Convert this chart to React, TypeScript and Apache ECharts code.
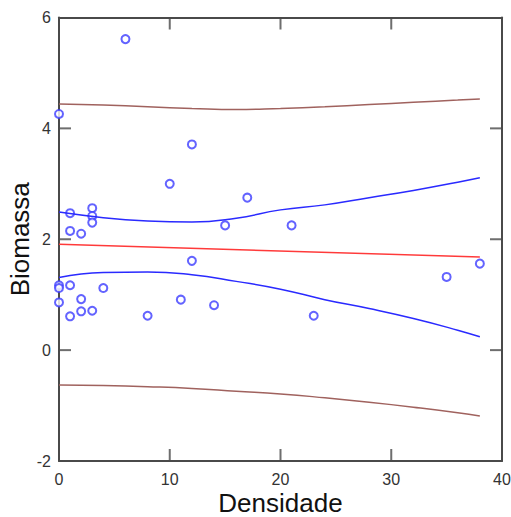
import React, { useEffect, useRef } from "react";
import * as echarts from "echarts";

const densidade = [0, 6, 12, 10, 17, 1, 3, 3, 3, 1, 2, 15, 21, 12, 0, 0, 1, 4, 0, 2, 11, 14, 1, 2, 3, 8, 23, 35, 38];
const biomassa = [4.26, 5.61, 3.71, 3.0, 2.75, 2.47, 2.56, 2.42, 2.3, 2.15, 2.1, 2.25, 2.25, 1.61, 1.17, 1.12, 1.17, 1.12, 0.86, 0.92, 0.91, 0.81, 0.61, 0.7, 0.71, 0.62, 0.62, 1.32, 1.56];

const fitX = [0, 38];
const fitY = [1.91, 1.68];

const bandX = [0, 4, 8, 12, 16, 20, 24, 28, 32, 36, 38];
const confUpper = [2.49, 2.39, 2.33, 2.31, 2.38, 2.53, 2.62, 2.75, 2.88, 3.03, 3.11];
const confLower = [1.31, 1.4, 1.41, 1.36, 1.24, 1.1, 0.91, 0.75, 0.57, 0.36, 0.24];
const predUpper = [4.44, 4.42, 4.39, 4.36, 4.34, 4.36, 4.39, 4.43, 4.47, 4.51, 4.53];
const predLower = [-0.63, -0.64, -0.66, -0.69, -0.74, -0.79, -0.86, -0.94, -1.03, -1.13, -1.19];

const xTicks = { min: 0, max: 40, interval: 10 };
const yTicks = { min: -2, max: 6, interval: 2 };
const xTickValues = [10, 20, 30];
const yTickValues = [0, 2, 4];

const pair = (xs: number[], ys: number[]) => xs.map((x, i) => [x, ys[i]]);

export default function App() {
  const ref = useRef<HTMLDivElement>(null);
  useEffect(() => {
    if (!ref.current) return;
    const chart = echarts.init(ref.current, null, { renderer: "svg" });
    const axisColor = "#4a4a4a";
    const frame = () => ({ show: true, onZero: false, lineStyle: { color: axisColor, width: 2 } });
    const font = "'Liberation Sans', Arial, sans-serif";
    const L = 12;
    const lineSeries = (data: number[][], color: string) => ({
      type: "line",
      data,
      smooth: true,
      showSymbol: false,
      symbol: "none",
      lineStyle: { color, width: 1.5 },
      silent: true,
    });
    const tickSeries = (data: number[][], size: number[], offset: number[]) => ({
      type: "scatter",
      data,
      symbol: "rect",
      symbolSize: size,
      symbolOffset: offset,
      itemStyle: { color: axisColor },
      clip: false,
      silent: true,
      z: 5,
    });
    chart.setOption({
      animation: false,
      backgroundColor: "#fff",
      grid: { left: 59, right: 9, top: 17.5, bottom: 56, outerBoundsMode: "none", containLabel: false },
      xAxis: [
        {
          type: "value",
          ...xTicks,
          name: "Densidade",
          nameLocation: "middle",
          nameGap: 31,
          nameMoveOverlap: false,
          nameTextStyle: { fontSize: 26, lineHeight: 22, color: "#111", fontFamily: font },
          axisLine: frame(),
          axisTick: { show: false },
          axisLabel: { fontSize: 16, color: "#333", fontFamily: font, margin: 10 },
          splitLine: { show: false },
        },
        {
          type: "value",
          position: "top",
          ...xTicks,
          axisLine: frame(),
          axisTick: { show: false },
          axisLabel: { show: false },
          splitLine: { show: false },
        },
      ],
      yAxis: [
        {
          type: "value",
          ...yTicks,
          name: "Biomassa",
          nameLocation: "middle",
          nameGap: 27,
          nameMoveOverlap: false,
          nameTextStyle: { fontSize: 26, lineHeight: 24, color: "#111", fontFamily: font },
          axisLine: frame(),
          axisTick: { show: false },
          axisLabel: { fontSize: 16, color: "#333", fontFamily: font, margin: 8 },
          splitLine: { show: false },
        },
        {
          type: "value",
          position: "right",
          ...yTicks,
          axisLine: frame(),
          axisTick: { show: false },
          axisLabel: { show: false },
          splitLine: { show: false },
        },
      ],
      series: [
        lineSeries(pair(bandX, predUpper), "#a0625e"),
        lineSeries(pair(bandX, predLower), "#a0625e"),
        lineSeries(pair(bandX, confUpper), "#2a2aff"),
        lineSeries(pair(bandX, confLower), "#2a2aff"),
        lineSeries(pair(fitX, fitY), "#ff3a3a"),
        {
          type: "scatter",
          data: pair(densidade, biomassa),
          symbol: "emptyCircle",
          symbolSize: 8,
          itemStyle: { color: "#3c3cff", borderWidth: 1.5 },
          silent: true,
        },
        // inward tick marks on the four sides of the frame
        tickSeries(xTickValues.map((v) => [v, yTicks.min]), [2, L], [0, -L / 2]),
        tickSeries(xTickValues.map((v) => [v, yTicks.max]), [2, L], [0, L / 2]),
        tickSeries(yTickValues.map((v) => [xTicks.min, v]), [L, 2], [L / 2, 0]),
        tickSeries(yTickValues.map((v) => [xTicks.max, v]), [L, 2], [-L / 2, 0]),
      ],
    });

    return () => chart.dispose();
  }, []);
  return <div ref={ref} style={{ width: 511, height: 517, position: "absolute", left: 0, top: 0 }} />;
}
